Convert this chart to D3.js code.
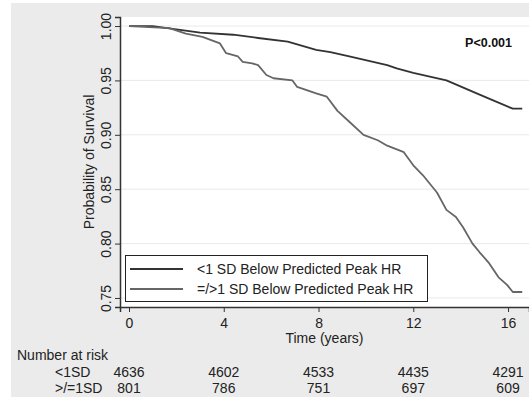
<!DOCTYPE html>
<html>
<head>
<meta charset="utf-8">
<script src="https://cdn.jsdelivr.net/npm/d3@7"></script>
<style>
  body { margin: 0; background: #fff; }
  svg { display: block; font-family: "Liberation Sans", Arial, sans-serif; }
</style>
</head>
<body>
<div id="chart"></div>
<script>
// Kaplan-Meier curves
const timeBelow = [0, 1.0, 2, 3, 4.4, 5.45, 6.7, 7.9, 8.5, 9.3, 10.9, 11.3, 12, 13.4, 14.8, 16.2, 16.6];
const survBelow = [1.000, 1.000, 0.997, 0.994, 0.992, 0.989, 0.9856, 0.978, 0.976, 0.972, 0.964, 0.961, 0.957, 0.950, 0.937, 0.924, 0.924];

const timeAbove = [0, 1.7, 2.4, 3.1, 3.84, 4.1, 4.6, 4.8, 5.2, 5.45, 5.8, 6.1, 6.9, 7.1, 7.9, 8.35, 8.8, 9.3, 9.9, 10.5, 10.9, 11.6, 12.0, 12.4, 13.0, 13.4, 13.8, 14.1, 14.5, 14.8, 15.2, 15.6, 15.96, 16.2, 16.6];
const survAbove = [1.000, 0.998, 0.993, 0.990, 0.984, 0.975, 0.972, 0.967, 0.9657, 0.964, 0.955, 0.952, 0.950, 0.944, 0.938, 0.935, 0.922, 0.912, 0.900, 0.895, 0.890, 0.884, 0.872, 0.863, 0.847, 0.831, 0.8245, 0.815, 0.800, 0.792, 0.782, 0.769, 0.762, 0.7555, 0.7555];

const seriesNames = ['<1 SD Below Predicted Peak HR', '=/>1 SD Below Predicted Peak HR'];
const riskGroups = ['<1SD', '>/=1SD'];
const riskTimes = [0, 4, 8, 12, 16];
const riskBelow = [4636, 4602, 4533, 4435, 4291];
const riskAbove = [801, 786, 751, 697, 609];
const yTicks = [0.75, 0.80, 0.85, 0.90, 0.95, 1.00];

const width = 529, height = 399;
const plot = { left: 120, right: 529, top: 17, bottom: 307 };

const svg = d3.select('#chart').append('svg')
  .attr('width', width)
  .attr('height', height);

// Outer grey panel and white plot region
svg.append('rect').attr('x', 11).attr('y', 3).attr('width', width - 11).attr('height', 394).attr('fill', '#ebebeb');
svg.append('rect')
  .attr('x', plot.left).attr('y', plot.top)
  .attr('width', plot.right - plot.left).attr('height', plot.bottom - plot.top)
  .attr('fill', '#fff');

const xScale = d3.scaleLinear().domain([-0.38, 16.885]).range([plot.left, plot.right]);
const yScale = d3.scaleLinear().domain([0.7417, 1.0083]).range([plot.bottom, plot.top]);

// Grid lines
svg.append('g').selectAll('line').data(yTicks).enter().append('line')
  .attr('x1', plot.left).attr('x2', plot.right)
  .attr('y1', (d) => yScale(d)).attr('y2', (d) => yScale(d))
  .attr('stroke', '#e9e9e9').attr('stroke-width', 1);

// Y axis (Stata style, rotated labels)
const yAxis = d3.axisLeft(yScale).tickValues(yTicks).tickSize(5).tickFormat(d3.format('.2f'));
const gy = svg.append('g').attr('transform', `translate(${plot.left},0)`).call(yAxis);
gy.select('.domain').attr('stroke', '#333').attr('stroke-width', 1.5);
gy.selectAll('.tick line').attr('stroke', '#333');
gy.selectAll('.tick text')
  .attr('x', null).attr('dy', null)
  .attr('transform', 'translate(-9,0) rotate(-90)')
  .attr('text-anchor', 'middle')
  .attr('fill', '#222')
  .style('font-size', '14px');

svg.append('text')
  .attr('transform', `translate(94,${(plot.top + plot.bottom) / 2}) rotate(-90)`)
  .attr('text-anchor', 'middle')
  .attr('fill', '#222')
  .style('font-size', '14px')
  .text('Probability of Survival');

// X axis
const xAxis = d3.axisBottom(xScale).tickValues(riskTimes).tickSize(5).tickFormat(d3.format('d'));
const gx = svg.append('g').attr('transform', `translate(0,${plot.bottom})`).call(xAxis);
gx.select('.domain').attr('stroke', '#333').attr('stroke-width', 1.5);
gx.selectAll('.tick line').attr('stroke', '#333');
gx.selectAll('.tick text').attr('y', 11).attr('fill', '#222').style('font-size', '14px');

svg.append('text')
  .attr('x', (plot.left + plot.right) / 2).attr('y', 343)
  .attr('text-anchor', 'middle')
  .attr('fill', '#222')
  .style('font-size', '14px')
  .text('Time (years)');

// Survival curves
const line = d3.line().x((d) => xScale(d[0])).y((d) => yScale(d[1]));
const curves = [
  { t: timeBelow, s: survBelow, color: '#333' },
  { t: timeAbove, s: survAbove, color: '#666' }
];
curves.forEach((c) => {
  svg.append('path')
    .datum(c.t.map((t, i) => [t, c.s[i]]))
    .attr('fill', 'none')
    .attr('stroke', c.color)
    .attr('stroke-width', 1.8)
    .attr('stroke-linejoin', 'round')
    .attr('d', line);
});

// P value
svg.append('text')
  .attr('x', 512).attr('y', 47)
  .attr('text-anchor', 'end')
  .attr('fill', '#111')
  .style('font-size', '12.5px')
  .style('font-weight', 'bold')
  .text('P<0.001');

// Legend
const legend = svg.append('g');
legend.append('rect')
  .attr('x', 125.5).attr('y', 255.5).attr('width', 302).attr('height', 46)
  .attr('fill', '#fff').attr('stroke', '#222').attr('stroke-width', 1);
seriesNames.forEach((name, i) => {
  const y = 269 + i * 20;
  legend.append('line')
    .attr('x1', 130).attr('x2', 183).attr('y1', y).attr('y2', y)
    .attr('stroke', curves[i].color).attr('stroke-width', 1.8);
  legend.append('text')
    .attr('x', 197).attr('y', y + 5)
    .attr('fill', '#222')
    .style('font-size', '14px')
    .text(name);
});

// Number at risk table
svg.append('text')
  .attr('x', 17).attr('y', 360)
  .attr('fill', '#222')
  .style('font-size', '14px')
  .text('Number at risk');

[riskBelow, riskAbove].forEach((counts, i) => {
  const y = 377 + i * 16;
  svg.append('text')
    .attr('x', 55).attr('y', y)
    .attr('fill', '#222')
    .style('font-size', '14px')
    .text(riskGroups[i]);
  svg.append('g').selectAll('text').data(counts).enter().append('text')
    .attr('x', (d, j) => xScale(riskTimes[j]))
    .attr('y', y)
    .attr('text-anchor', 'middle')
    .attr('fill', '#222')
    .style('font-size', '14px')
    .text((d) => d);
});
</script>
</body>
</html>
